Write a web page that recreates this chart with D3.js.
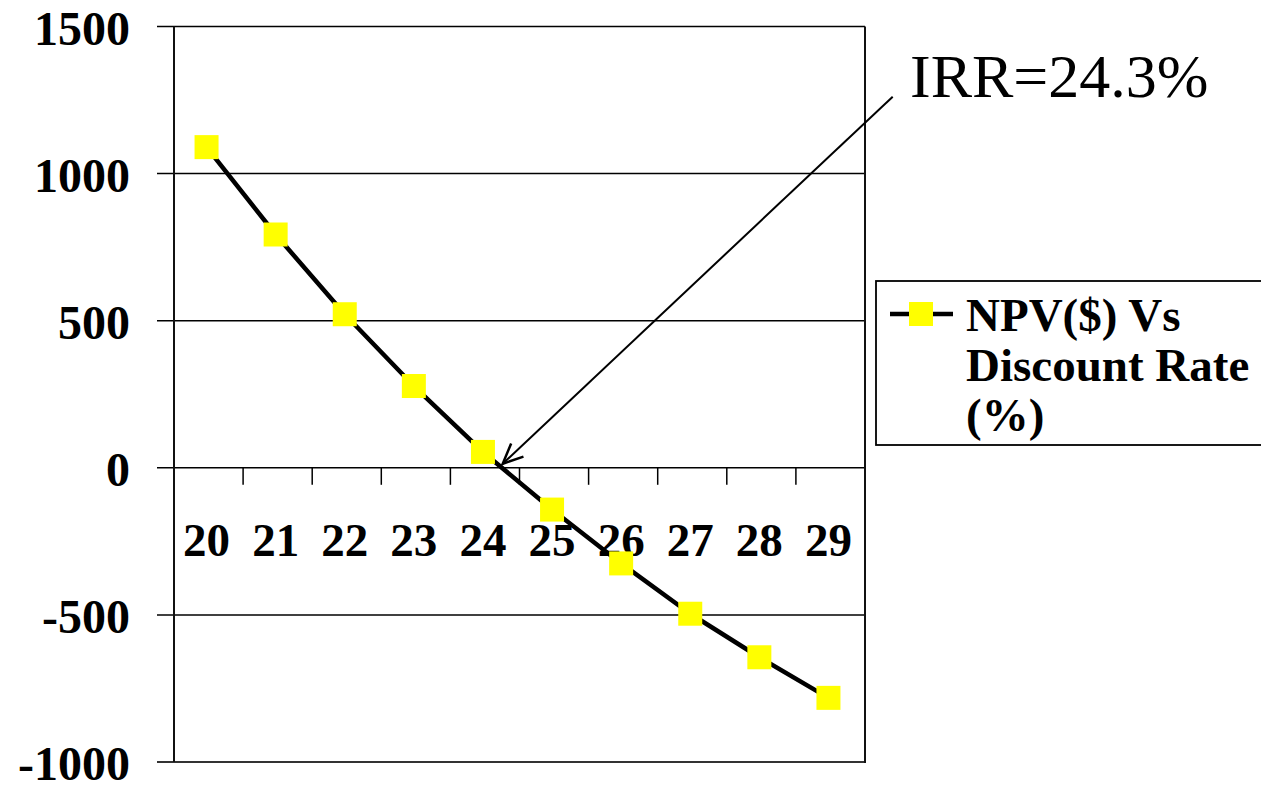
<!DOCTYPE html>
<html>
<head>
<meta charset="utf-8">
<script src="https://cdn.jsdelivr.net/npm/d3@7"></script>
<style>
  html, body { margin: 0; padding: 0; background: #fff; }
  svg { display: block; font-family: "Liberation Serif", "Times New Roman", serif; }
</style>
</head>
<body>
<svg id="chart" width="1261" height="787"></svg>
<script>
// ---- data ----
const categories = ["20", "21", "22", "23", "24", "25", "26", "27", "28", "29"];
const npvValues = [1090, 793, 522, 278, 54, -142, -325, -496, -644, -782];
const yTickValues = [-1000, -500, 0, 500, 1000, 1500];
const seriesName = ["NPV($) Vs", "Discount Rate", "(%)"];
const annotationText = "IRR=24.3%";
const irrValue = 24.3;

// ---- layout ----
const svg = d3.select("#chart");
const plot = { left: 174, right: 865, top: 26.5, bottom: 762 };

const x = d3.scaleBand().domain(categories).range([plot.left, plot.right]).padding(0);
const y = d3.scaleLinear().domain([-1000, 1500]).range([plot.bottom, plot.top]);

// gridlines (with outward tick on the left)
svg.append("g").selectAll("line").data(yTickValues).join("line")
  .attr("x1", plot.left - 17).attr("x2", plot.right)
  .attr("y1", d => y(d)).attr("y2", d => y(d))
  .attr("stroke", d => d === -1000 ? "#333" : "#000")
  .attr("stroke-width", d => d === -1000 ? 2 : 1.5);

// left axis line and right border
svg.append("line").attr("x1", plot.left).attr("x2", plot.left)
  .attr("y1", plot.top).attr("y2", plot.bottom).attr("stroke", "#111").attr("stroke-width", 2);
svg.append("line").attr("x1", plot.right).attr("x2", plot.right)
  .attr("y1", plot.top).attr("y2", plot.bottom + 1).attr("stroke", "#111").attr("stroke-width", 2);

// y labels
svg.append("g").selectAll("text").data(yTickValues).join("text")
  .attr("x", 130).attr("y", d => y(d) + 18)
  .attr("text-anchor", "end")
  .attr("font-size", 48).attr("font-weight", "bold")
  .text(d => d);

// x-axis ticks at category boundaries on the zero line
const boundaries = categories.slice(1).map(c => x(c));
svg.append("g").selectAll("line").data(boundaries).join("line")
  .attr("x1", d => d).attr("x2", d => d)
  .attr("y1", y(0)).attr("y2", y(0) + 17)
  .attr("stroke", "#000").attr("stroke-width", 1.5);

// x labels
svg.append("g").selectAll("text").data(categories).join("text")
  .attr("x", d => x(d) + x.bandwidth() / 2 - 2).attr("y", 556)
  .attr("text-anchor", "middle")
  .attr("font-size", 47).attr("font-weight", "bold")
  .text(d => d);

// series
const pts = categories.map((c, i) => ({ c, v: npvValues[i] }));
const cx = d => x(d.c) + x.bandwidth() / 2 - 2;
svg.append("path").datum(pts)
  .attr("d", d3.line().x(cx).y(d => y(d.v)))
  .attr("fill", "none").attr("stroke", "#000").attr("stroke-width", 4.5)
  .attr("stroke-linejoin", "round");
const ms = 24;
svg.append("g").selectAll("rect").data(pts).join("rect")
  .attr("x", d => cx(d) - ms / 2).attr("y", d => y(d.v) - ms / 2)
  .attr("width", ms).attr("height", ms).attr("fill", "#ffff00");

// annotation arrow
const xIrr = d3.scaleLinear()
  .domain([+categories[0], +categories[categories.length - 1]])
  .range([cx(pts[0]), cx(pts[pts.length - 1])]);
const tip = [xIrr(irrValue) - 1, y(0) - 4];
const tail = [892.7, 96.7];
svg.append("line").attr("x1", tail[0]).attr("y1", tail[1]).attr("x2", tip[0]).attr("y2", tip[1])
  .attr("stroke", "#000").attr("stroke-width", 2);
const ang = Math.atan2(tail[1] - tip[1], tail[0] - tip[0]);
const hl = 22, ha = 0.42;
svg.append("path")
  .attr("d", `M${tip[0] + hl * Math.cos(ang - ha)},${tip[1] + hl * Math.sin(ang - ha)}L${tip[0]},${tip[1]}L${tip[0] + hl * Math.cos(ang + ha)},${tip[1] + hl * Math.sin(ang + ha)}`)
  .attr("fill", "none").attr("stroke", "#000").attr("stroke-width", 2.5);
svg.append("text").attr("x", 910).attr("y", 97)
  .attr("font-size", 62).text(annotationText);

// legend
svg.append("rect").attr("x", 876).attr("y", 281).attr("width", 400).attr("height", 164)
  .attr("fill", "#fff").attr("stroke", "#000").attr("stroke-width", 1.8);
svg.append("line").attr("x1", 890).attr("x2", 953).attr("y1", 314).attr("y2", 314)
  .attr("stroke", "#000").attr("stroke-width", 4.5);
svg.append("rect").attr("x", 909).attr("y", 302).attr("width", 24).attr("height", 24).attr("fill", "#ffff00");
svg.append("g").selectAll("text").data(seriesName).join("text")
  .attr("x", 966).attr("y", (d, i) => 331 + i * 50)
  .attr("font-size", 47).attr("font-weight", "bold")
  .text(d => d);
</script>
</body>
</html>
